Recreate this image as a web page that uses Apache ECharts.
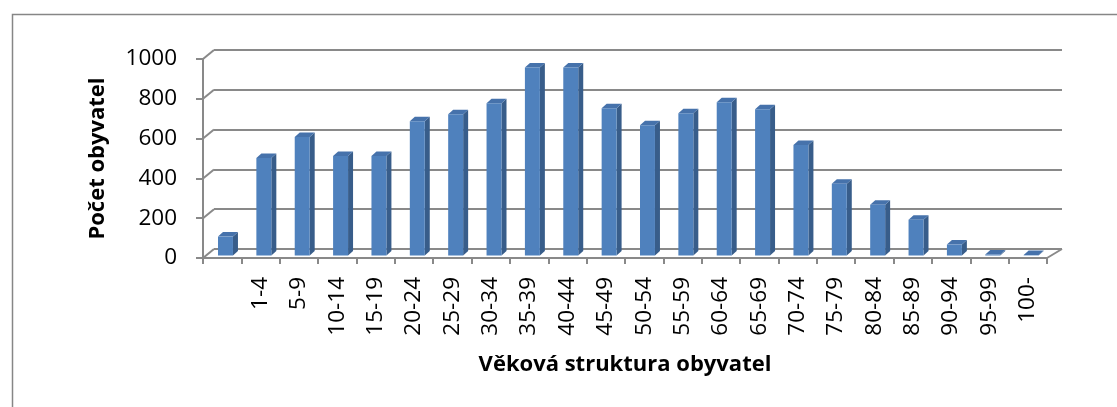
<!DOCTYPE html>
<html>
<head>
<meta charset="utf-8">
<script src="https://cdn.jsdelivr.net/npm/echarts@6/dist/echarts.min.js"></script>
<style>
html,body{margin:0;padding:0;background:#fff;}
#c{width:1117px;height:407px;}
</style>
</head>
<body>
<div id="c"></div>
<script>
var categories = ['', '1-4', '5-9', '10-14', '15-19', '20-24', '25-29', '30-34', '35-39', '40-44', '45-49', '50-54', '55-59', '60-64', '65-69', '70-74', '75-79', '80-84', '85-89', '90-94', '95-99', '100-'];
var values = [95, 490, 595, 500, 500, 675, 710, 765, 945, 945, 740, 655, 715, 770, 735, 555, 360, 255, 180, 55, 5, 2];
var yTicks = [0, 200, 400, 600, 800, 1000];
var xTitle = 'Věková struktura obyvatel';
var yTitle = 'Počet obyvatel';

var FONT = '"Open Sans", "Noto Sans", sans-serif';
var GRAY = '#898989';
var chart = echarts.init(document.getElementById('c'), null, {renderer: 'canvas'});

function barItem(params, api) {
  var i = api.value(0), v = api.value(1);
  var top = api.coord([i, v]);
  var base = api.coord([i, 0]);
  var bw = api.size([1, 0])[0];
  var fw = bw * 0.39;
  var dx = 3.3, dy = -2.5, ddx = 5, ddy = -4.5;
  var x1 = top[0] - fw / 2 + dx, x2 = top[0] + fw / 2 + dx;
  var yt = top[1] + dy, yb = base[1] + dy;
  return {
    type: 'group',
    children: [
      {type: 'polygon', shape: {points: [[x2, yt], [x2 + ddx, yt + ddy], [x2 + ddx, yb + ddy], [x2, yb]]},
       style: {fill: '#385d8a'}},
      {type: 'polygon', shape: {points: [[x1, yt], [x1 + ddx, yt + ddy], [x2 + ddx, yt + ddy], [x2, yt]]},
       style: {fill: '#4672ab'}},
      {type: 'rect', shape: {x: x1, y: yt, width: x2 - x1, height: yb - yt},
       style: {fill: '#4f81bd'}}
    ]
  };
}

function wallItem(params, api) {
  var v = api.value(0);
  var p = api.coord([0, v]);
  var bw = api.size([1, 0])[0];
  var x0 = p[0] - bw / 2;
  var children = [{type: 'line', shape: {x1: x0, y1: p[1], x2: x0 + 11, y2: p[1] - 9},
                   style: {stroke: GRAY, lineWidth: 2}}];
  if (v === 0) {
    var q = api.coord([categories.length - 1, 0]);
    var xr = q[0] + bw / 2;
    children.push({type: 'line', shape: {x1: xr, y1: q[1], x2: xr + 15, y2: q[1] - 9},
                   style: {stroke: GRAY, lineWidth: 2}});
  }
  return {type: 'group', children: children};
}

var option = {
  animation: false,
  graphic: [{
    type: 'rect', left: 10, top: 12, z: -10, silent: true,
    shape: {width: 1200, height: 500},
    style: {fill: 'none', stroke: '#868686', lineWidth: 1.5}
  }],
  grid: [
    {left: 203, top: 59, width: 844, height: 199},
    {left: 214, top: 50, width: 848, height: 199}
  ],
  xAxis: [
    {
      type: 'category', gridIndex: 0, data: categories,
      axisLine: {show: true, lineStyle: {color: GRAY, width: 2}},
      axisTick: {show: true, length: 6, lineStyle: {color: GRAY, width: 2}},
      axisLabel: {rotate: 90, interval: 0, margin: 19, fontSize: 22.5, color: '#000', fontFamily: FONT},
      name: xTitle, nameLocation: 'middle', nameGap: 96,
      nameTextStyle: {fontSize: 22, fontWeight: 'bold', color: '#000', fontFamily: FONT}
    },
    {
      type: 'category', gridIndex: 1, data: categories, show: false
    }
  ],
  yAxis: [
    {
      type: 'value', gridIndex: 0, min: 0, max: 1000, interval: 200,
      axisLine: {show: true, lineStyle: {color: GRAY, width: 2}},
      axisTick: {show: true, length: 7, lineStyle: {color: GRAY, width: 2}},
      splitLine: {show: false},
      axisLabel: {margin: 26, fontSize: 22.5, color: '#000', fontFamily: FONT,
                  formatter: function (v) { return String(v); }},
      name: yTitle, nameLocation: 'middle', nameGap: 94, nameRotate: 90,
      nameTextStyle: {fontSize: 22, fontWeight: 'bold', color: '#000', fontFamily: FONT}
    },
    {
      type: 'value', gridIndex: 1, min: 0, max: 1000, interval: 200,
      axisLine: {show: false}, axisTick: {show: false}, axisLabel: {show: false},
      splitLine: {show: true, lineStyle: {color: GRAY, width: 2}}
    }
  ],
  series: [
    {
      type: 'custom', xAxisIndex: 0, yAxisIndex: 0, z: 1,
      renderItem: wallItem,
      data: yTicks.map(function (t) { return [t]; }),
      encode: {y: 0}
    },
    {
      type: 'custom', xAxisIndex: 0, yAxisIndex: 0, z: 5,
      renderItem: barItem,
      data: values.map(function (v, i) { return [i, v]; }),
      encode: {x: 0, y: 1}
    }
  ]
};
chart.setOption(option);
</script>
</body>
</html>
